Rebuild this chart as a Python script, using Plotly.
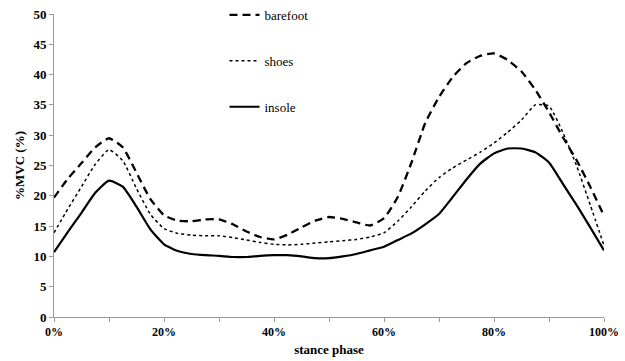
import plotly.graph_objects as go

phase = [i * 2.5 for i in range(41)]

barefoot = [19.7, 22.8, 25.4, 28.0, 29.5, 28.0, 23.8, 19.5, 16.8, 15.9, 15.8, 16.1, 16.1, 15.3,
            14.1, 13.2, 12.8, 13.6, 14.8, 15.9, 16.5, 16.2, 15.6, 15.1, 16.3, 19.8, 25.5, 32.0,
            36.3, 39.6, 41.9, 43.1, 43.5, 42.4, 40.5, 37.5, 33.8, 29.7, 25.9, 21.5, 16.7]
shoes = [13.9, 17.8, 21.5, 25.2, 27.6, 25.8, 21.2, 17.0, 14.6, 13.8, 13.5, 13.4, 13.4, 13.1,
         12.7, 12.3, 12.0, 11.9, 12.0, 12.2, 12.4, 12.6, 12.8, 13.2, 13.9, 15.8, 18.2, 20.8,
         23.0, 24.6, 25.9, 27.2, 28.7, 30.5, 32.5, 35.0, 34.8, 30.5, 25.0, 18.5, 11.8]
insole = [10.7, 14.0, 17.2, 20.5, 22.5, 21.5, 18.2, 14.5, 12.0, 10.9, 10.4, 10.2, 10.1, 9.9,
          9.9, 10.1, 10.2, 10.2, 10.0, 9.7, 9.7, 10.0, 10.4, 11.0, 11.6, 12.7, 13.8, 15.3,
          17.0, 19.8, 22.7, 25.3, 27.0, 27.8, 27.8, 27.2, 25.5, 22.0, 18.5, 14.8, 11.0]

x_tickvals = [0, 10, 20, 30, 40, 50, 60, 70, 80, 90, 100]
x_ticktext = ["0%", "", "20%", "", "40%", "", "60%", "", "80%", "", "100%"]
y_tickvals = [0, 5, 10, 15, 20, 25, 30, 35, 40, 45, 50]
y_ticktext = ["0", "5", "10", "15", "20", "25", "30", "35", "40", "45", "50"]

serif = "Liberation Serif"


def bold(labels):
    return [f"<b>{t}</b>" if t else "" for t in labels]


fig = go.Figure()
fig.add_trace(go.Scatter(x=phase, y=barefoot, name="barefoot", mode="lines", legendgroup="a",
                         line=dict(color="black", width=2.3, dash="8px,5px", shape="spline", smoothing=0.5)))
fig.add_trace(go.Scatter(x=phase, y=shoes, name="shoes", mode="lines", legendgroup="b",
                         line=dict(color="black", width=1.5, dash="dot", shape="spline", smoothing=0.5)))
fig.add_trace(go.Scatter(x=phase, y=insole, name="insole", mode="lines", legendgroup="c",
                         line=dict(color="black", width=2.2, shape="spline", smoothing=0.5)))

fig.update_layout(
    width=625, height=361,
    margin=dict(l=54, r=21, t=14, b=44, autoexpand=False),
    paper_bgcolor="white", plot_bgcolor="white",
    font=dict(family=serif, color="black", size=12),
    showlegend=True,
    legend=dict(x=0.31, y=1.0, yref="container", xanchor="left", yanchor="top",
                bgcolor="rgba(0,0,0,0)", tracegroupgap=26, traceorder="grouped",
                font=dict(size=13, family=serif)),
    xaxis=dict(range=[0, 100], tickvals=x_tickvals, ticktext=bold(x_ticktext), showgrid=False,
               zeroline=False, showline=True, linecolor="#999999", linewidth=1,
               ticks="outside", ticklen=4, tickcolor="#999999", automargin=False,
               tickfont=dict(family=serif, size=12),
               title=dict(text="<b>stance phase</b>", font=dict(family=serif, size=13), standoff=6)),
    yaxis=dict(range=[0, 50], tickvals=y_tickvals, ticktext=bold(y_ticktext), showgrid=False,
               zeroline=False, showline=True, linecolor="#999999", linewidth=1,
               ticks="outside", ticklen=4, tickcolor="#999999", automargin=False,
               tickfont=dict(family=serif, size=13),
               title=dict(text="<b>%MVC (%)</b>", font=dict(family=serif, size=13), standoff=5)),
)

fig.write_html("out.html", config={"displayModeBar": False},
               post_script="document.body.style.margin='0';document.body.style.overflow='hidden';")
